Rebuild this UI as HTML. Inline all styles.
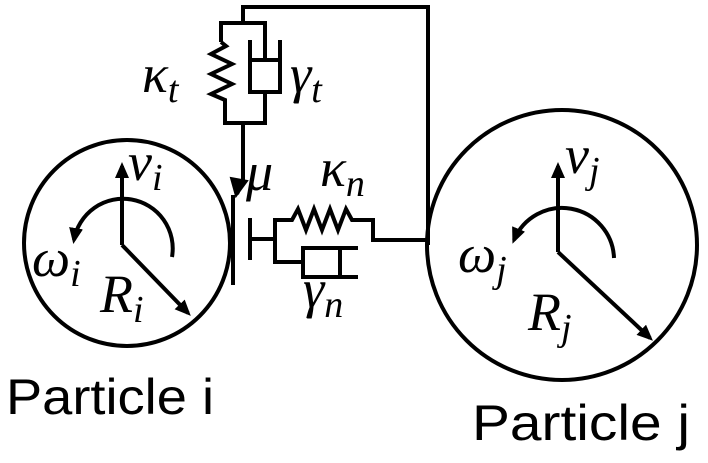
<!DOCTYPE html>
<html><head><meta charset="utf-8"><style>html,body{margin:0;padding:0;background:#fff}</style></head><body>
<svg width="708" height="458" viewBox="0 0 708 458" xmlns="http://www.w3.org/2000/svg">
<defs><marker id="ah" markerWidth="16" markerHeight="14" refX="12" refY="7" orient="auto" markerUnits="userSpaceOnUse"><path d="M0,0 L16,7 L0,14 z" fill="#000"/></marker></defs>
<g fill="none" stroke="#000" stroke-width="4">
<circle cx="127" cy="243" r="103"/>
<circle cx="562" cy="245" r="135"/>
<line x1="122" y1="245" x2="122" y2="166" marker-end="url(#ah)"/>
<line x1="122" y1="245" x2="188" y2="313" marker-end="url(#ah)"/>
<path d="M172,257 A49,49 0 0 0 74,240" marker-end="url(#ah)"/>
<line x1="558" y1="252" x2="558" y2="166" marker-end="url(#ah)"/>
<line x1="558" y1="252" x2="650" y2="338" marker-end="url(#ah)"/>
<path d="M614,258 A52,52 0 0 0 514,240" marker-end="url(#ah)"/>
<line x1="233" y1="195" x2="233" y2="285"/>
<polyline points="243,23 243,7 428,7 428,245"/>
<polyline points="221,42 221,23 265,23 265,60"/>
<polyline points="221,42 226,46 211,54 232,64 211,74 232,84 211,94 225,100 225,123 265,123 265,92"/>
<polyline points="250,40 250,92 280,92 280,40"/>
<line x1="250" y1="60" x2="280" y2="60"/>
<path d="M243,123 L243,180 L237,194"/>
<path d="M231,178 L236,196 L247,181 z" fill="#000" stroke-width="2"/>
<line x1="250" y1="218" x2="250" y2="260"/>
<line x1="250" y1="239" x2="275" y2="239"/>
<polyline points="303,262 275,262 275,220 292,220 298,209 306,230 314,209 322,230 330,209 338,230 346,209 352,220 373,220 373,242"/>
<rect x="303" y="248" width="37" height="29"/>
<line x1="340" y1="248" x2="358" y2="248"/>
<line x1="340" y1="277" x2="358" y2="277"/>
<line x1="373" y1="240" x2="428" y2="240"/>
</g>
<g font-family="Liberation Serif, serif" font-style="italic" fill="#000">
<text x="142" y="92" font-size="54">κ<tspan font-size="38" dy="10">t</tspan></text>
<text x="290" y="92" font-size="54">γ<tspan font-size="38" dy="10">t</tspan></text>
<text x="246" y="190" font-size="54">μ</text>
<text x="320" y="186" font-size="54">κ<tspan font-size="38" dy="10">n</tspan></text>
<text x="303" y="307" font-size="54">γ<tspan font-size="38" dy="10">n</tspan></text>
<text x="128" y="180" font-size="54">v<tspan font-size="38" dy="10">i</tspan></text>
<text x="32" y="276" font-size="54">ω<tspan font-size="38" dy="10">i</tspan></text>
<text x="100" y="312" font-size="54">R<tspan font-size="38" dy="10">i</tspan></text>
<text x="565" y="173" font-size="54">v<tspan font-size="38" dy="10">j</tspan></text>
<text x="458" y="272" font-size="54">ω<tspan font-size="38" dy="10">j</tspan></text>
<text x="528" y="330" font-size="54">R<tspan font-size="38" dy="10">j</tspan></text>
</g>
<g font-family="Liberation Sans, sans-serif" font-size="50" fill="#000">
<text x="6" y="414" textLength="208" lengthAdjust="spacingAndGlyphs">Particle i</text>
<text x="472" y="440" textLength="218" lengthAdjust="spacingAndGlyphs">Particle j</text>
</g>
</svg>
</body></html>
